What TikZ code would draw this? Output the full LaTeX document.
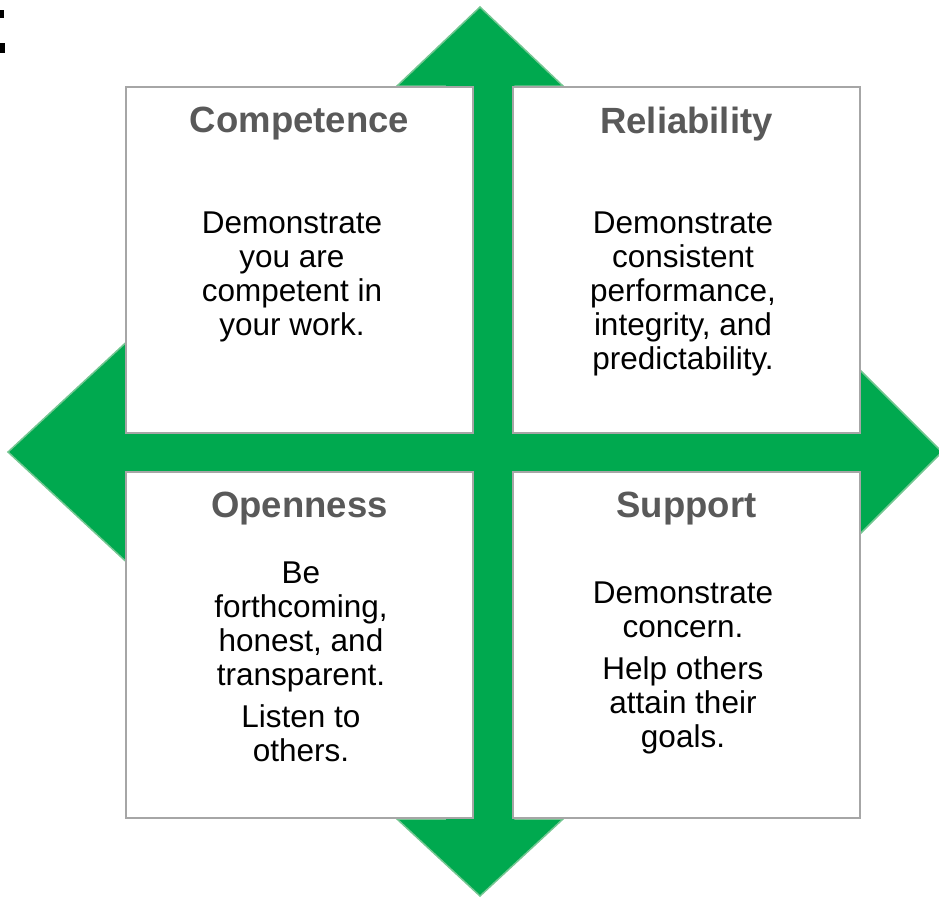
\documentclass[tikz,border=0pt]{standalone}
\usepackage{fontspec}
\setmainfont{Liberation Sans}
\usetikzlibrary{positioning}
\definecolor{arrowgreen}{HTML}{00A94F}
\definecolor{arrowrim}{HTML}{74C792}
\definecolor{boxgray}{HTML}{A6A6A6}
\definecolor{headgray}{HTML}{595959}

\begin{document}
\begin{tikzpicture}[x=1pt,y=-1pt,
    quadbox/.style={draw=boxgray,line width=2.5pt,fill=white,rectangle,
        minimum width=347pt,minimum height=346pt,inner sep=0pt},
    heading/.style={text=headgray,font=\fontsize{36.5}{40}\selectfont\bfseries}]
    \tikzstyle{body}=[align=center,inner sep=0pt,
        font=\fontsize{31.5}{34}\selectfont]

    \useasboundingbox (0,0) rectangle (939,897);

    % stray marks at the top-left corner
    \fill[black] (0,10) rectangle (4,18);
    \fill[black] (0,43) rectangle (5,53);

    % four-way arrow behind the boxes
    \filldraw[fill=arrowgreen,draw=arrowrim,line width=1.5pt,line join=miter]
        (480,7) -- (563,86) -- (515,86) -- (515,417) -- (802,417)
        -- (802,312) -- (942,452) -- (802,592) -- (802,487) -- (515,487)
        -- (515,819) -- (563,819) -- (480,896) -- (397,819) -- (445,819)
        -- (445,487) -- (148,487) -- (148,582) -- (8,452) -- (148,322)
        -- (148,417) -- (445,417) -- (445,86) -- (397,86) -- cycle;

    \node[quadbox] (competence) at (299.5,260) {};
    \node[quadbox] (reliability) at (686.5,260) {};
    \node[quadbox] (openness) at (299.5,645) {};
    \node[quadbox] (support) at (686.5,645) {};

    \node[heading] (competence-head) at ([yshift=-38pt]competence.north) {Competence};
    \node[heading] (reliability-head) at ([yshift=-38pt]reliability.north) {Reliability};
    \node[heading] (openness-head) at ([yshift=-38pt]openness.north) {Openness};
    \node[heading] (support-head) at ([yshift=-38pt]support.north) {Support};

    \node[body] (competence-text) at (292,277)
        {Demonstrate\\you are\\competent in\\your work.};
    \node[body] (reliability-text) at (683,294)
        {Demonstrate\\consistent\\performance,\\integrity, and\\predictability.};
    \node[body] (openness-text) at (301,662)
        {Be\\forthcoming,\\honest, and\\transparent.\\[8pt]Listen to\\others.};
    \node[body] (support-text) at (683,668)
        {Demonstrate\\concern.\\[8pt]Help others\\attain their\\goals.};

  \end{tikzpicture}
\end{document}
